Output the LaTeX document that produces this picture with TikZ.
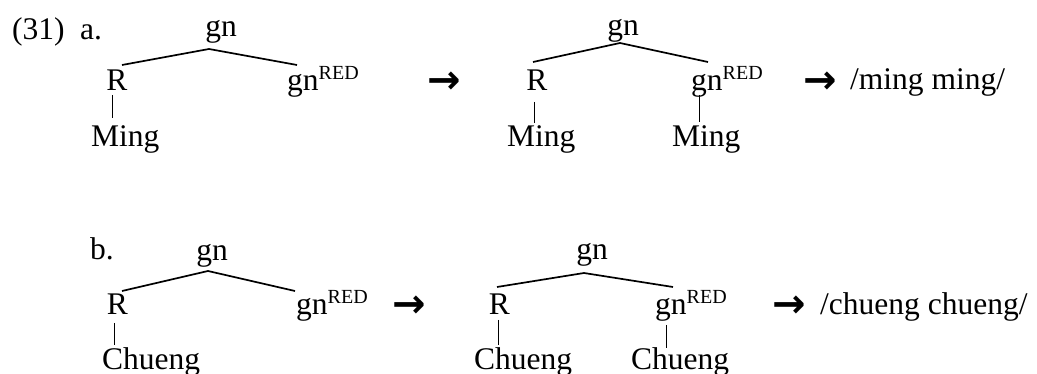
\documentclass[tikz,border=0pt]{standalone}
\usepackage{fontspec}
\setmainfont{Liberation Serif}
\newfontfamily\arrowfont{DejaVu Sans}
\usetikzlibrary{calc}
\newcommand\redsup{\raisebox{11pt}{\fontsize{20}{20}\selectfont RED}}
\tikzset{
  lab/.style={font=\fontsize{31.5}{38}\selectfont, inner sep=0pt, anchor=base},
  labw/.style={lab, anchor=base west},
  arr/.style={lab, font=\fontsize{40}{44}\selectfont\arrowfont\bfseries},
  branch/.style={line width=1.7pt},
  stem/.style={line width=1pt}
}
\begin{document}
\begin{tikzpicture}[x=1pt,y=-1pt]
\useasboundingbox (0,0) rectangle (1037,374);
% ---- row a ----
\node[labw] (n31) at (12,40) {(31)};
\node[labw] (la) at (80,40) {a.};
\node[lab] (gnA1) at (221,37) {gn};
\node[lab] (RA1) at (117,91) {R};
\node[labw] (gnRA1) at (287,91) {gn\redsup};
\node[labw] (MingA1) at (91,147) {Ming};
\draw[branch] ($(RA1.base)+(5,-26)$) -- ($(gnA1.base)+(-12,12)$) -- ($(gnRA1.base west)+(10,-26)$);
\draw[stem] ($(RA1.base)+(-5,4)$) -- ($(MingA1.base west)+(21,-29)$);
\node[arr] (arA1) at (444.5,94) {→};
\node[lab] (gnA2) at (623,36) {gn};
\node[lab] (RA2) at (537,91) {R};
\node[labw] (gnRA2) at (691,91) {gn\redsup};
\node[labw] (MingA2a) at (507,147) {Ming};
\node[labw] (MingA2b) at (672,147) {Ming};
\draw[branch] ($(RA2.base)+(-4,-29)$) -- ($(gnA2.base)+(-3,7)$) -- ($(gnRA2.base west)+(17,-29)$);
\draw[stem] ($(RA2.base)+(-3,11)$) -- ($(MingA2a.base west)+(27,-24)$);
\draw[stem] ($(gnRA2.base west)+(8,4)$) -- ($(MingA2b.base west)+(27,-25)$);
\node[arr] (arA2) at (820.5,94) {→};
\node[labw] (resA) at (850,90) {/ming ming/};
% ---- row b ----
\node[labw] (lb) at (90,260) {b.};
\node[lab] (gnB1) at (212,261) {gn};
\node[lab] (RB1) at (117.5,315) {R};
\node[labw] (gnRB1) at (296,315) {gn\redsup};
\node[labw] (ChB1) at (102,370) {Chueng};
\draw[branch] ($(RB1.base)+(4.5,-24)$) -- ($(gnB1.base)+(-4,10)$) -- ($(gnRB1.base west)+(-1,-24)$);
\draw[stem] ($(RB1.base)+(-3.5,8)$) -- ($(ChB1.base west)+(12,-25)$);
\node[arr] (arB1) at (409.5,318) {→};
\node[lab] (gnB2) at (592,260) {gn};
\node[lab] (RB2) at (499.5,315) {R};
\node[labw] (gnRB2) at (655,315) {gn\redsup};
\node[labw] (ChB2a) at (474,370) {Chueng};
\node[labw] (ChB2b) at (631,370) {Chueng};
\draw[branch] ($(RB2.base)+(-2.5,-28)$) -- ($(gnB2.base)+(-8,13)$) -- ($(gnRB2.base west)+(18,-28)$);
\draw[stem] ($(RB2.base)+(-1.5,5)$) -- ($(ChB2a.base west)+(24,-25)$);
\draw[stem] ($(gnRB2.base west)+(11,10)$) -- ($(ChB2b.base west)+(35,-22)$);
\node[arr] (arB2) at (789.5,318) {→};
\node[labw] (resB) at (820,315) {/chueng chueng/};
\end{tikzpicture}
\end{document}
